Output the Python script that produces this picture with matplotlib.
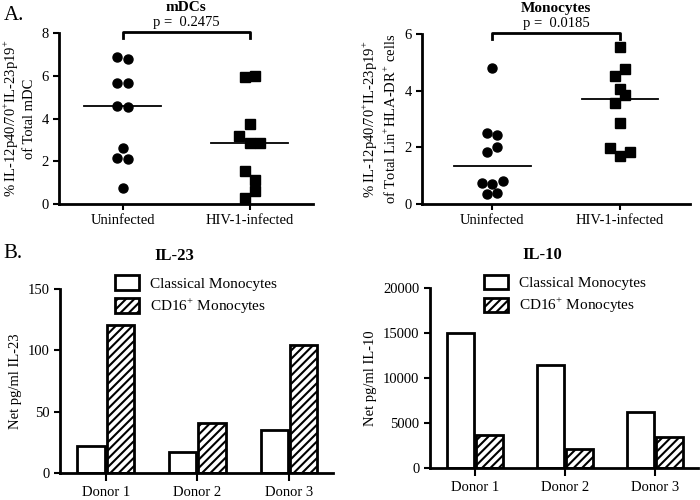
import matplotlib.pyplot as plt
import numpy as np

plt.rcParams['font.family'] = ['Liberation Serif', 'DejaVu Serif']
plt.rcParams['mathtext.fontset'] = 'custom'
plt.rcParams['mathtext.rm'] = 'Liberation Serif'

# Panel A data
groups = ['Uninfected', 'HIV-1-infected']
mdc_uninf = [6.9, 6.8, 5.65, 5.65, 4.6, 4.55, 2.6, 2.15, 2.1, 0.75]
mdc_uninf_jit = [-0.04, 0.04, -0.04, 0.04, -0.04, 0.04, 0.0, -0.04, 0.04, 0.0]
mdc_hiv = [5.95, 6.0, 3.75, 3.2, 2.85, 2.85, 1.55, 1.1, 0.6, 0.3]
mdc_hiv_jit = [-0.04, 0.04, 0.0, -0.08, 0.0, 0.08, -0.04, 0.04, 0.04, -0.04]
mdc_medians = [4.57, 2.87]

mono_uninf = [4.8, 2.5, 2.43, 2.0, 1.85, 0.75, 0.72, 0.8, 0.35, 0.38]
mono_uninf_jit = [0.0, -0.04, 0.04, 0.04, -0.04, -0.08, 0.0, 0.08, -0.04, 0.04]
mono_hiv = [5.55, 4.52, 4.75, 4.05, 3.85, 3.57, 2.87, 1.97, 1.68, 1.85]
mono_hiv_jit = [0.0, -0.04, 0.04, 0.0, 0.04, -0.04, 0.0, -0.08, 0.0, 0.08]
mono_medians = [1.33, 3.72]

# Panel B data
donors = ['Donor 1', 'Donor 2', 'Donor 3']
il23_classical = [22, 17, 35]
il23_cd16 = [121, 41, 104]
il10_classical = [15000, 11500, 6200]
il10_cd16 = [3700, 2100, 3450]

fig = plt.figure(figsize=(7, 5), dpi=100)


def style(ax):
    for s in ['top', 'right']:
        ax.spines[s].set_visible(False)
    for s in ['left', 'bottom']:
        ax.spines[s].set_linewidth(2)
    ax.tick_params(width=1.5, length=4, labelsize=10.5)


def scatter_panel(ax, uninf, uj, hiv, hj, meds, ymax, title, pval, ylabel):
    ax.plot(np.array(uj), uninf, 'o', color='black', ms=6.5)
    ax.plot(1 + np.array(hj), hiv, 's', color='black', ms=6.5)
    for i, m in enumerate(meds):
        ax.plot([i - 0.3, i + 0.3], [m, m], color='black', lw=1.3)
    ax.set_ylim(0, ymax)
    ax.set_yticks(np.arange(0, ymax + 1, 2))
    ax.set_xticks([0, 1])
    ax.set_xticklabels(groups)
    top = ymax * 1.005
    leg = ymax * 0.97
    ax.plot([0, 0, 1, 1], [leg, top, top, leg], color='black', lw=2, clip_on=False)
    ax.annotate('p =  ' + pval, (0.5, 1), xycoords=('data', 'axes fraction'),
                xytext=(0, 5), textcoords='offset points',
                ha='center', va='baseline', fontsize=10.5)
    ax.annotate(title, (0.5, 1), xycoords=('data', 'axes fraction'),
                xytext=(0, 15.5), textcoords='offset points',
                ha='center', va='baseline', fontsize=11, fontweight='bold')
    ax.set_ylabel(ylabel, fontsize=10.5, labelpad=4)
    style(ax)


ax1 = fig.add_axes([0.0843, 0.592, 0.363, 0.342])
ax1.set_xlim(-0.5, 1.5)
scatter_panel(ax1, mdc_uninf, mdc_uninf_jit, mdc_hiv, mdc_hiv_jit, mdc_medians, 8,
              'mDCs', '0.2475',
              '% IL-12p40/70$^{+}$IL-23p19$^{+}$\nof Total mDC')

ax2 = fig.add_axes([0.603, 0.592, 0.383, 0.340])
ax2.set_xlim(-0.55, 1.55)
scatter_panel(ax2, mono_uninf, mono_uninf_jit, mono_hiv, mono_hiv_jit, mono_medians, 6,
              'Monocytes', '0.0185',
              '% IL-12p40/70$^{+}$IL-23p19$^{+}$\nof Total Lin$^{+}$HLA-DR$^{+}$ cells')

plt.rcParams['hatch.linewidth'] = 1.5


def bar_panel(ax, classical, cd16, ymax, step, title, ylabel, title_x):
    x = np.arange(len(donors))
    ax.bar(x - 0.16, classical, width=0.3, color='white', edgecolor='black', lw=2,
           label='Classical Monocytes')
    ax.bar(x + 0.16, cd16, width=0.3, color='white', edgecolor='black', lw=2,
           hatch='////', label='CD16$^{+}$ Monocytes')
    ax.set_xlim(-0.5, 2.48)
    ax.set_ylim(0, ymax)
    ax.set_yticks(np.arange(0, ymax + 1, step))
    ax.set_xticks(x)
    ax.set_xticklabels(donors)
    ax.set_ylabel(ylabel, fontsize=10.5)
    ax.legend(loc='upper left', bbox_to_anchor=(0.15, 1.15), frameon=False, fontsize=11,
              handlelength=1.6, handleheight=1.1, labelspacing=0.35, handletextpad=0.7)
    ax.annotate(title, (title_x, 1), xycoords='axes fraction',
                xytext=(0, 21), textcoords='offset points',
                ha='center', va='baseline', fontsize=12, fontweight='bold')
    style(ax)
    ax.tick_params(axis='x', length=6)


ax3 = fig.add_axes([0.0857, 0.054, 0.39, 0.368])
bar_panel(ax3, il23_classical, il23_cd16, 150, 50, 'IL-23', 'Net pg/ml IL-23', 0.42)

ax4 = fig.add_axes([0.614, 0.064, 0.383, 0.36])
bar_panel(ax4, il10_classical, il10_cd16, 20000, 5000, 'IL-10', 'Net pg/ml IL-10', 0.42)

fig.text(0.005, 0.97, 'A.', fontsize=15, va='center')
fig.text(0.005, 0.494, 'B.', fontsize=15, va='center')

fig.savefig('out.png', dpi=100)
